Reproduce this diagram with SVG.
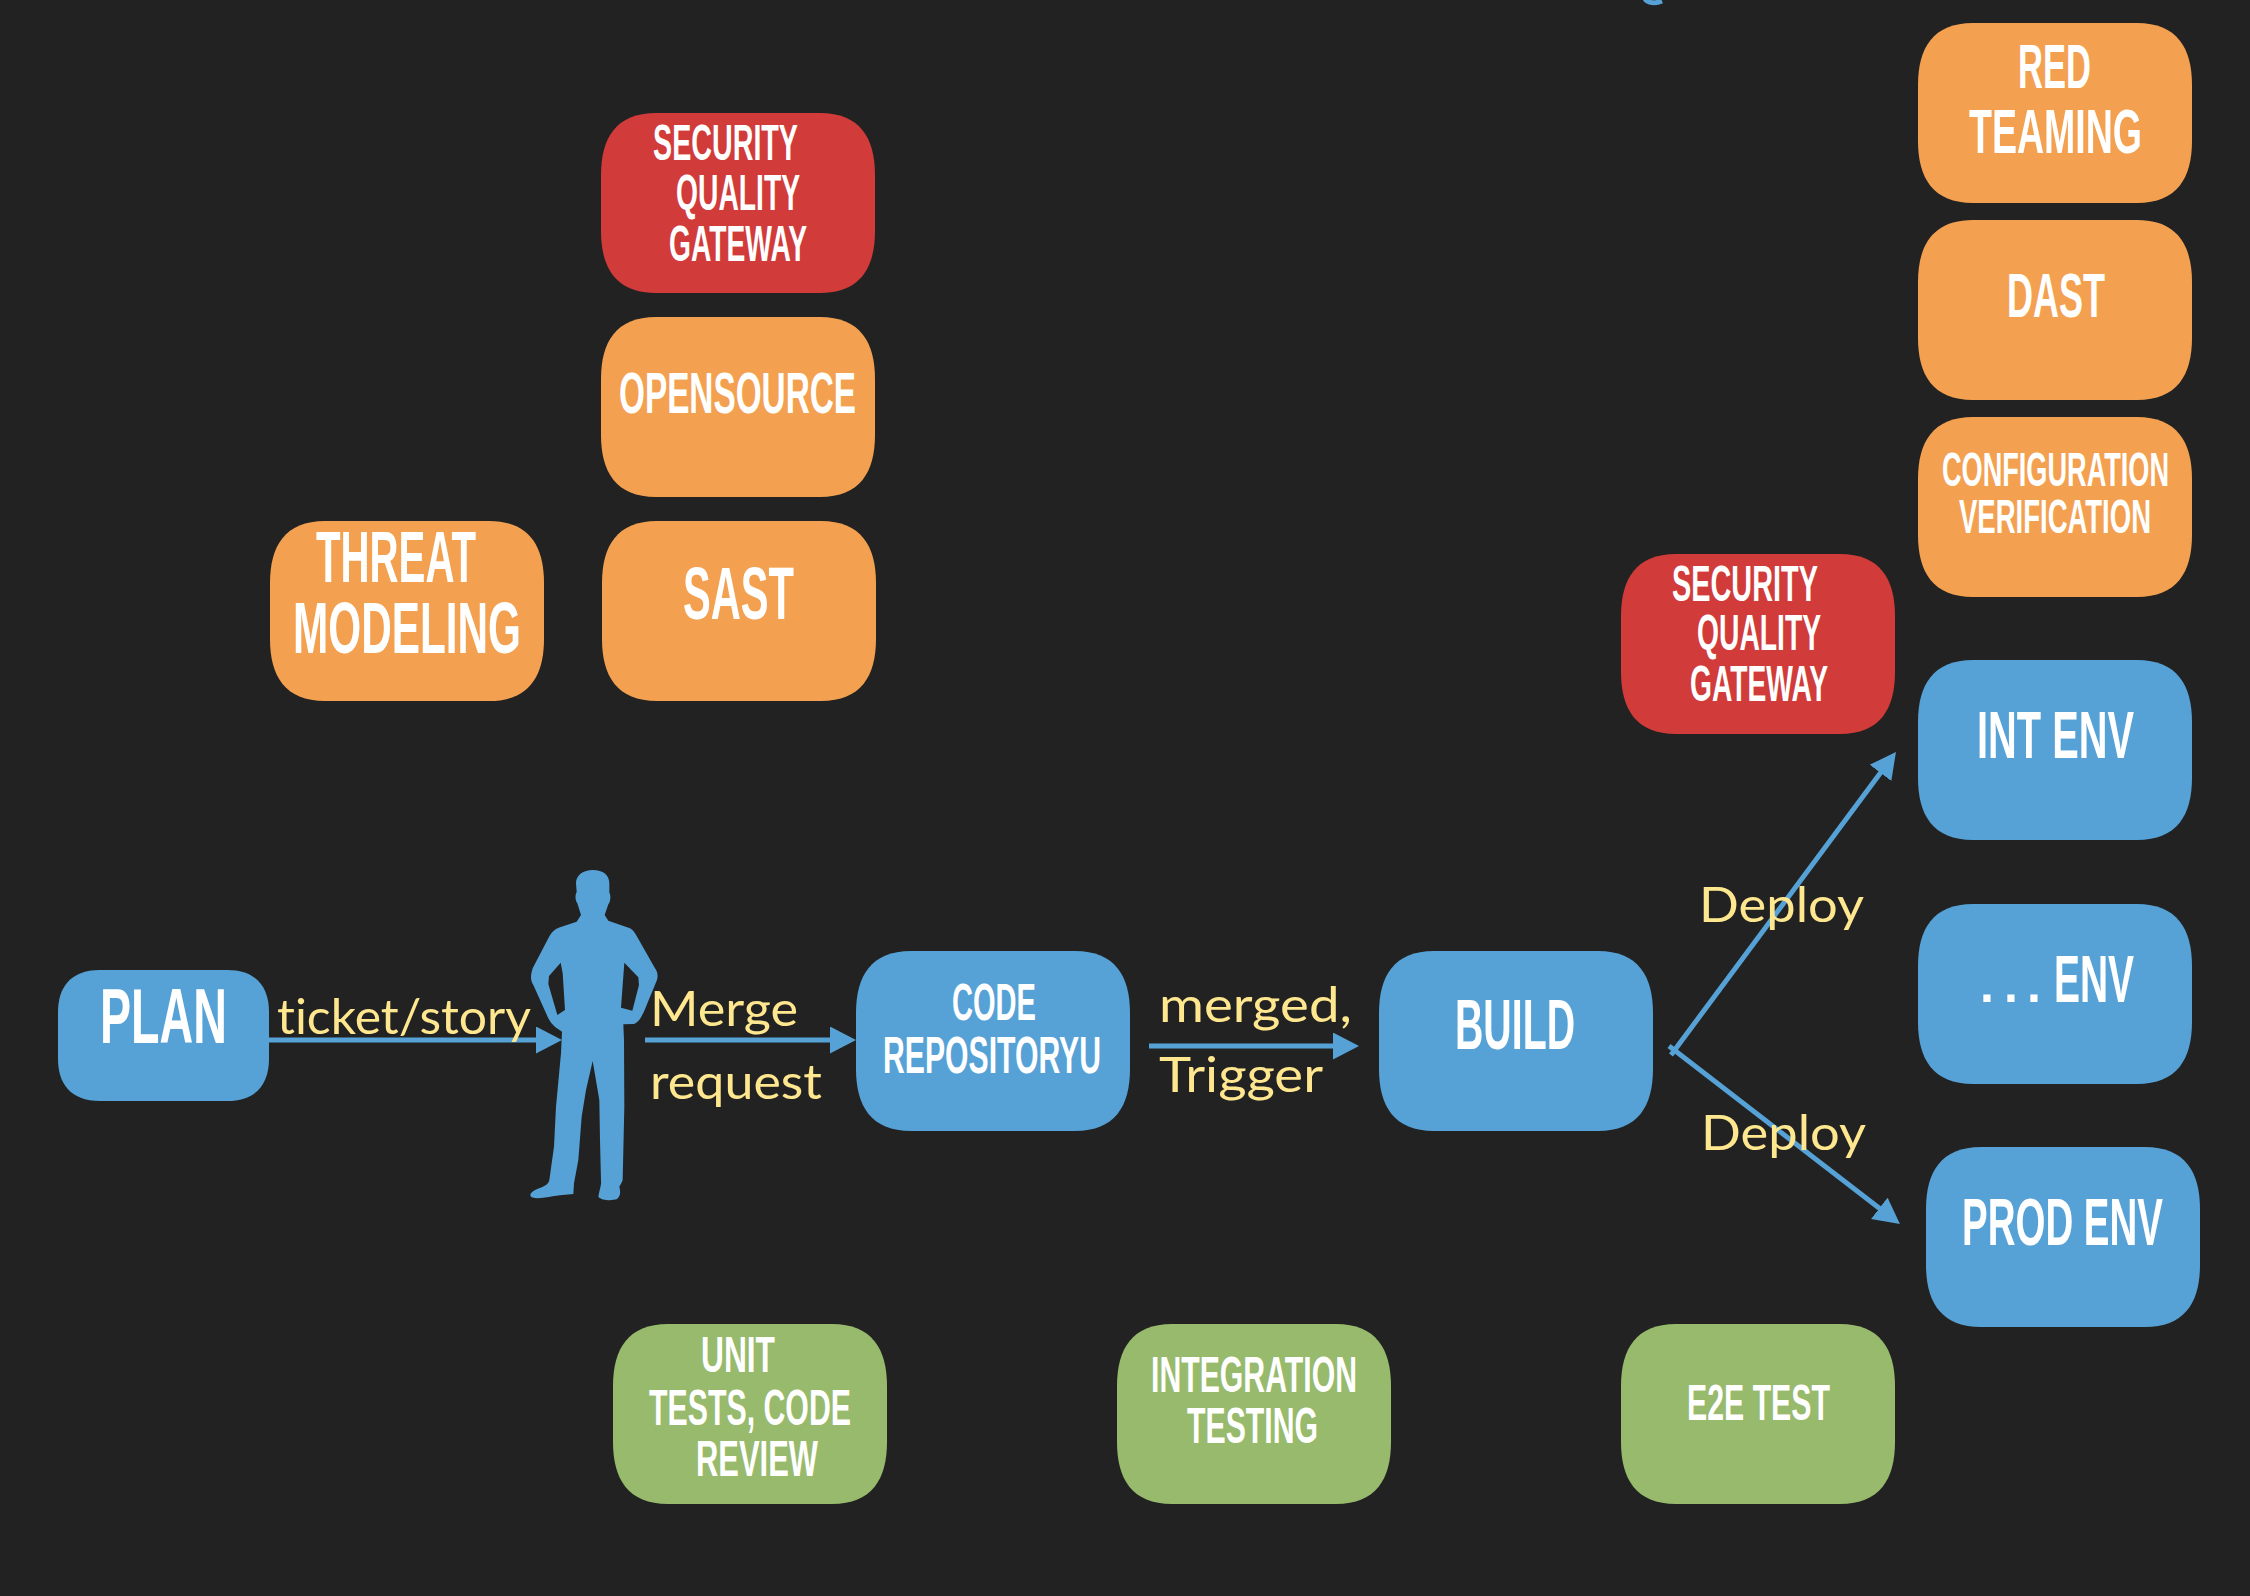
<svg xmlns="http://www.w3.org/2000/svg" width="2250" height="1596" viewBox="0 0 2250 1596">
<style>
.t{font-family:"Liberation Sans Narrow","Liberation Sans",Arial,sans-serif;font-weight:700;fill:#fff}
.l{font-family:Lato,"Open Sans",sans-serif;font-size:49px;fill:#FEE78E;font-variant-ligatures:none}
.c{fill:none;stroke:#56A2D6;stroke-width:5}
.blue{fill:#56A2D6}.orange{fill:#F3A150}.red{fill:#D13B3A}.green{fill:#97BA6C}
</style>
<defs>
<path id="box" d="M55 0H219C259 0 274 25 274 62V118C274 155 259 180 219 180H55C15 180 0 155 0 118V62C0 25 15 0 55 0Z"/>
<marker id="ah" markerUnits="userSpaceOnUse" markerWidth="28" markerHeight="28" refX="16" refY="13.5" orient="auto"><path d="M0 0L26 13.5L0 27Z" fill="#56A2D6"/></marker>
</defs>
<rect width="2250" height="1596" fill="#222222"/>
<path d="M1645 -1C1648 3 1655 4 1662 1" fill="none" stroke="#56A2D6" stroke-width="5"/>
<g id="connectors">
<path class="c" marker-end="url(#ah)" d="M268 1040H552"/>
<path class="c" marker-end="url(#ah)" d="M645 1040H846"/>
<path class="c" marker-end="url(#ah)" d="M1149 1046H1349"/>
<path class="c" marker-end="url(#ah)" d="M1671 1055L1890 760"/>
<path class="c" marker-end="url(#ah)" d="M1669 1046L1892 1218"/>
</g>
<g id="person" transform="translate(480 840) scale(.33333)"><path class="blue" fill-rule="evenodd" d="M338 90C370 90 388 105 388 130L388 158C393 165 392 185 385 193L374 225L385 242L450 265C460 270 465 280 470 288L525 385C533 395 535 410 530 422L500 495C490 520 480 545 462 552L430 553L432 600L433 800L428 1020C425 1030 420 1035 418 1040C422 1055 422 1070 410 1078C395 1082 365 1082 355 1070C358 1050 365 1035 363 1022L360 900L358 780L338 663L318 750L305 830L295 960L282 1030L280 1062L240 1066C210 1068 180 1080 155 1072C145 1065 155 1055 170 1048C190 1040 205 1035 208 1020L222 920L228 800L243 640L246 575C230 565 215 555 205 535L160 435C150 420 152 405 158 385L205 295C215 275 225 268 240 262L290 245L303 225L292 190C285 180 285 165 290 155L288 130C288 105 310 90 338 90ZM242 368L207 408L205 432L232 525L255 510L248 400ZM433 368L475 412L477 435L457 512L423 503Z"/></g>
<g id="edge-labels">
<text class="l" x="277" y="1034" textLength="254" lengthAdjust="spacingAndGlyphs">ticket/story</text>
<text class="l" x="650" y="1026" textLength="148" lengthAdjust="spacingAndGlyphs">Merge</text>
<text class="l" x="650" y="1099" textLength="172" lengthAdjust="spacingAndGlyphs">request</text>
<text class="l" x="1159" y="1022" textLength="193" lengthAdjust="spacingAndGlyphs">merged,</text>
<text class="l" x="1159" y="1092" textLength="164" lengthAdjust="spacingAndGlyphs">Trigger</text>
<text class="l" x="1699" y="922" textLength="165" lengthAdjust="spacingAndGlyphs">Deploy</text>
<text class="l" x="1701" y="1150" textLength="165" lengthAdjust="spacingAndGlyphs">Deploy</text>
</g>
<g id="node-security-1"><use href="#box" x="601" y="113" class="red"/>
<text class="t" font-size="50" x="653" y="160" textLength="145" lengthAdjust="spacingAndGlyphs">SECURITY</text>
<text class="t" font-size="50" x="676" y="210" textLength="124" lengthAdjust="spacingAndGlyphs">QUALITY</text>
<text class="t" font-size="50" x="669" y="261" textLength="138" lengthAdjust="spacingAndGlyphs">GATEWAY</text></g>
<g id="node-opensource"><use href="#box" x="601" y="317" class="orange"/>
<text class="t" font-size="57" x="619" y="413" textLength="237" lengthAdjust="spacingAndGlyphs">OPENSOURCE</text></g>
<g id="node-sast"><use href="#box" x="602" y="521" class="orange"/>
<text class="t" font-size="74" x="683" y="619" textLength="111" lengthAdjust="spacingAndGlyphs">SAST</text></g>
<g id="node-threat"><use href="#box" x="270" y="521" class="orange"/>
<text class="t" font-size="72" x="316" y="582" textLength="160" lengthAdjust="spacingAndGlyphs">THREAT</text>
<text class="t" font-size="72" x="293" y="653" textLength="228" lengthAdjust="spacingAndGlyphs">MODELING</text></g>
<g id="node-plan"><path class="blue" d="M100 970H227C257 970 269 988 269 1012V1059C269 1083 257 1101 227 1101H100C70 1101 58 1083 58 1059V1012C58 988 70 970 100 970Z"/>
<text class="t" font-size="78" x="100" y="1043" textLength="127" lengthAdjust="spacingAndGlyphs">PLAN</text></g>
<g id="node-code"><use href="#box" x="856" y="951" class="blue"/>
<text class="t" font-size="52" x="952" y="1020" textLength="84" lengthAdjust="spacingAndGlyphs">CODE</text>
<text class="t" font-size="52" x="883" y="1073" textLength="218" lengthAdjust="spacingAndGlyphs">REPOSITORYU</text></g>
<g id="node-build"><use href="#box" x="1379" y="951" class="blue"/>
<text class="t" font-size="70" x="1455" y="1049" textLength="120" lengthAdjust="spacingAndGlyphs">BUILD</text></g>
<g id="node-red-teaming"><use href="#box" x="1918" y="23" class="orange"/>
<text class="t" font-size="63" x="2018" y="88" textLength="73" lengthAdjust="spacingAndGlyphs">RED</text>
<text class="t" font-size="63" x="1969" y="153" textLength="173" lengthAdjust="spacingAndGlyphs">TEAMING</text></g>
<g id="node-dast"><use href="#box" x="1918" y="220" class="orange"/>
<text class="t" font-size="63" x="2007" y="317" textLength="98" lengthAdjust="spacingAndGlyphs">DAST</text></g>
<g id="node-config"><use href="#box" x="1918" y="417" class="orange"/>
<text class="t" font-size="48" x="1942" y="486" textLength="227" lengthAdjust="spacingAndGlyphs">CONFIGURATION</text>
<text class="t" font-size="48" x="1959" y="533" textLength="192" lengthAdjust="spacingAndGlyphs">VERIFICATION</text></g>
<g id="node-security-2"><use href="#box" x="1621" y="554" class="red"/>
<text class="t" font-size="50" x="1672" y="601" textLength="146" lengthAdjust="spacingAndGlyphs">SECURITY</text>
<text class="t" font-size="50" x="1697" y="650" textLength="124" lengthAdjust="spacingAndGlyphs">QUALITY</text>
<text class="t" font-size="50" x="1690" y="701" textLength="138" lengthAdjust="spacingAndGlyphs">GATEWAY</text></g>
<g id="node-int-env"><use href="#box" x="1918" y="660" class="blue"/>
<text class="t" font-size="66" x="1977" y="758" textLength="157" lengthAdjust="spacingAndGlyphs">INT ENV</text></g>
<g id="node-other-env"><use href="#box" x="1918" y="904" class="blue"/>
<text class="t" font-size="50" y="1002" x="1980 2004 2027">...</text>
<text class="t" font-size="66" x="2054" y="1002" textLength="80" lengthAdjust="spacingAndGlyphs">ENV</text></g>
<g id="node-prod-env"><use href="#box" x="1926" y="1147" class="blue"/>
<text class="t" font-size="66" x="1962" y="1245" textLength="201" lengthAdjust="spacingAndGlyphs">PROD ENV</text></g>
<g id="node-unit"><use href="#box" x="613" y="1324" class="green"/>
<text class="t" font-size="50" x="701" y="1372" textLength="74" lengthAdjust="spacingAndGlyphs">UNIT</text>
<text class="t" font-size="50" x="649" y="1425" textLength="202" lengthAdjust="spacingAndGlyphs">TESTS, CODE</text>
<text class="t" font-size="50" x="696" y="1476" textLength="122" lengthAdjust="spacingAndGlyphs">REVIEW</text></g>
<g id="node-integration"><use href="#box" x="1117" y="1324" class="green"/>
<text class="t" font-size="50" x="1151" y="1392" textLength="206" lengthAdjust="spacingAndGlyphs">INTEGRATION</text>
<text class="t" font-size="50" x="1187" y="1443" textLength="131" lengthAdjust="spacingAndGlyphs">TESTING</text></g>
<g id="node-e2e"><use href="#box" x="1621" y="1324" class="green"/>
<text class="t" font-size="50" x="1687" y="1420" textLength="143" lengthAdjust="spacingAndGlyphs">E2E TEST</text></g>
</svg>
